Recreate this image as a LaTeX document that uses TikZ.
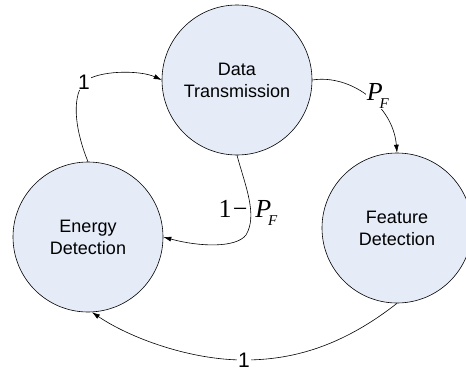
\documentclass[tikz,border=0pt]{standalone}
\usepackage{fontspec}
\setmainfont{Liberation Sans}
\newfontfamily\tnr{Liberation Serif}
\usetikzlibrary{arrows.meta}
\definecolor{statefill}{RGB}{229,236,247}
\tikzset{
  state/.style={circle, draw=black, line width=0.6pt, fill=statefill, minimum size=150pt, inner sep=0pt, align=center, font=\fontsize{18}{22}\selectfont},
  conn/.style={line width=0.6pt, -{Latex[length=8pt,width=5pt]}},
  onelbl/.style={fill=white, inner sep=1pt, font=\fontsize{21}{21}\selectfont},
  plbl/.style={inner sep=0pt, font=\tnr\fontsize{26}{26}\selectfont}
}
\begin{document}
\begin{tikzpicture}[x=1pt,y=-1pt]
\useasboundingbox (0,0) rectangle (466,370);
\node[state] (DT) at (237,80) {Data\\Transmission};
\node[state] (ED) at (88,237) {Energy\\Detection};
\node[state] (FD) at (397,228) {Feature\\Detection};
% ED -> DT
\draw[conn] (ED.north) .. controls (77,135) and (70,100) .. (84,82) node[onelbl] (l1) {1}
  .. controls (98,70) and (140,70) .. (DT.west);
% DT -> FD
\draw[conn] (DT.east) .. controls (350,74) and (393,105) .. (FD.north);
\node[plbl, fill=white, inner sep=0.5pt] (pf) at (378,96) {\textit{P}\kern-0.12em\raisebox{-0.28em}{\fontsize{15}{15}\selectfont\textit{F}}};
% DT -> ED
\draw[conn] (DT.south) .. controls (245,185) and (258,215) .. (246,235)
  .. controls (236,248) and (200,247) .. (ED.east);
\node[plbl] (pf2) at (248,213) {1\kern0.05em−\kern0.3em\textit{P}\kern-0.12em\raisebox{-0.28em}{\fontsize{15}{15}\selectfont\textit{F}}};
% FD -> ED
\draw[conn] (FD.south) .. controls (340,348) and (290,360) .. (244,360) node[onelbl] (l2) {1}
  .. controls (190,360) and (130,338) .. (ED.-87);
\end{tikzpicture}
\end{document}
